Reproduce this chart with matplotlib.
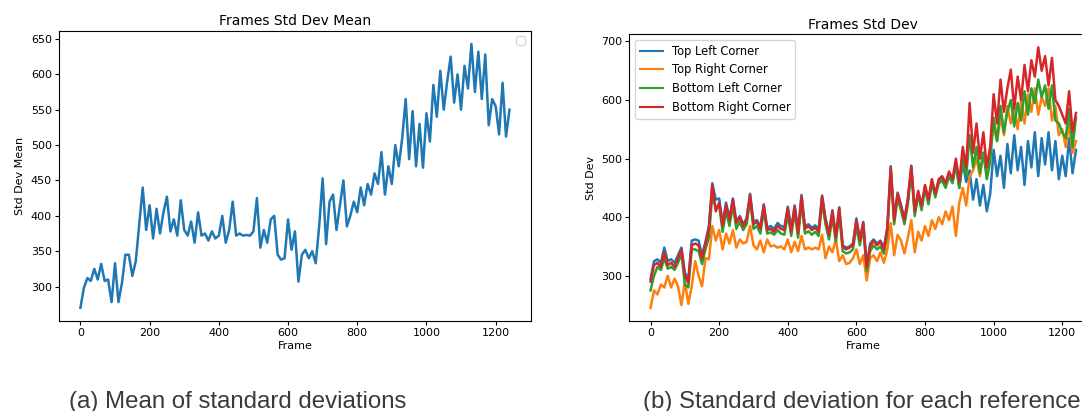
import numpy as np
import matplotlib.pyplot as plt

# frame index, sampled every 10 frames
frames = np.arange(0, 1250, 10)

std_dev_mean = [
    270, 298, 312, 308, 325, 310, 332, 308, 310, 278,
    333, 278, 305, 345, 345, 315, 336, 388, 440, 380,
    415, 368, 410, 375, 405, 427, 378, 395, 372, 422,
    380, 372, 392, 362, 405, 372, 375, 365, 378, 368,
    372, 400, 362, 380, 420, 372, 375, 372, 373, 372,
    378, 425, 355, 380, 362, 395, 400, 345, 338, 340,
    395, 352, 378, 307, 345, 352, 340, 350, 333, 385,
    453, 360, 420, 430, 380, 415, 450, 385, 400, 420,
    405, 440, 415, 445, 430, 460, 445, 490, 430, 470,
    445, 500, 470, 510, 565, 480, 548, 470, 530, 468,
    545, 505, 585, 540, 605, 550, 590, 625, 560, 600,
    550, 612, 580, 643, 575, 632, 565, 628, 528, 565,
    555, 515, 588, 512, 550,
]

top_left = [
    295, 325, 328, 322, 348, 325, 328, 322, 335, 348,
    305, 295, 360, 362, 360, 335, 358, 385, 458, 430,
    432, 390, 425, 398, 432, 392, 402, 388, 398, 440,
    392, 395, 384, 422, 382, 385, 380, 390, 385, 383,
    418, 380, 420, 376, 438, 384, 388, 382, 386, 380,
    437, 398, 372, 412, 368, 417, 352, 348, 350, 355,
    398, 362, 392, 318, 355, 362, 355, 360, 348, 382,
    487, 398, 442, 420, 397, 432, 488, 408, 443, 418,
    452, 428, 462, 440, 462, 468, 455, 475, 460, 490,
    450, 495, 460, 480, 430, 465, 420, 455, 410, 440,
    515, 470, 505, 450, 525, 475, 540, 480, 520, 455,
    530, 485, 545, 470, 535, 490, 545, 480, 530, 465,
    505, 470, 535, 475, 515,
]

top_right = [
    245, 275, 268, 285, 280, 300, 280, 295, 282, 250,
    290, 252, 282, 325, 300, 282, 330, 328, 385, 360,
    378, 345, 372, 355, 378, 348, 362, 355, 358, 385,
    352, 345, 360, 340, 362, 350, 352, 348, 350, 345,
    362, 340, 358, 342, 368, 345, 348, 345, 348, 345,
    370, 330, 350, 340, 362, 325, 335, 320, 322, 330,
    345, 320, 335, 292, 330, 335, 325, 340, 322, 345,
    390, 335, 370, 360, 338, 365, 395, 340, 375, 360,
    385, 368, 395, 380, 400, 388, 410, 395, 418, 368,
    425, 450, 420, 470, 480, 500, 470, 510, 475, 520,
    555, 530, 570, 540, 590, 560, 585, 550, 600, 560,
    610, 580, 620, 575, 605, 590, 620, 565, 590, 540,
    550, 520, 560, 510, 530,
]

bottom_left = [
    275, 300, 315, 310, 330, 312, 315, 310, 322, 338,
    285, 280, 345, 345, 342, 320, 345, 365, 440, 415,
    420, 375, 410, 385, 420, 380, 392, 378, 388, 430,
    380, 385, 372, 412, 372, 374, 370, 378, 372, 370,
    405, 368, 410, 365, 425, 372, 376, 370, 375, 368,
    425, 388, 362, 400, 358, 405, 342, 338, 340, 345,
    385, 352, 382, 308, 342, 352, 345, 350, 338, 372,
    478, 388, 432, 412, 388, 422, 480, 402, 438, 412,
    448, 422, 458, 434, 458, 462, 450, 470, 458, 490,
    450, 500, 470, 540, 485, 520, 475, 510, 465, 495,
    570, 530, 590, 545, 580, 600, 555, 595, 565, 615,
    575, 620, 595, 635, 605, 625, 585, 625, 565, 560,
    545, 535, 585, 520, 570,
]

bottom_right = [
    290, 318, 322, 315, 340, 318, 322, 315, 330, 345,
    300, 288, 352, 355, 352, 330, 355, 380, 455, 410,
    425, 385, 420, 395, 430, 390, 400, 385, 395, 438,
    388, 392, 380, 420, 378, 380, 375, 385, 380, 378,
    415, 375, 418, 372, 435, 380, 385, 378, 382, 375,
    435, 395, 370, 410, 365, 415, 350, 345, 348, 352,
    395, 360, 390, 315, 350, 360, 352, 358, 345, 380,
    485, 395, 440, 420, 395, 430, 487, 410, 445, 420,
    455, 430, 465, 440, 465, 470, 458, 478, 465, 500,
    460, 520, 485, 595, 510, 560, 500, 545, 485, 520,
    610, 560, 635, 580, 620, 652, 585, 640, 600, 660,
    615, 668, 640, 690, 650, 675, 625, 672, 600, 590,
    575, 560, 615, 545, 578,
]

plt.rcParams["font.size"] = 8

fig = plt.figure(figsize=(10.82, 4.11), dpi=100)

ax1 = fig.add_axes([0.0545, 0.219, 0.4362, 0.7063])
ax1.plot(frames, std_dev_mean, color="#1f77b4", lw=1.8)
ax1.set_title("Frames Std Dev Mean", fontsize=10, pad=4)
ax1.set_xlabel("Frame", labelpad=2)
ax1.set_ylabel("Std Dev Mean", labelpad=4)
ax1.set_xticks([0, 200, 400, 600, 800, 1000, 1200])
ax1.set_yticks([300, 350, 400, 450, 500, 550, 600, 650])
ax1.legend(handles=[], loc="upper right")

ax2 = fig.add_axes([0.5816, 0.219, 0.4325, 0.6975])
ax2.plot(frames, top_left, label="Top Left Corner", lw=1.8)
ax2.plot(frames, top_right, label="Top Right Corner", lw=1.8)
ax2.plot(frames, bottom_left, label="Bottom Left Corner", lw=1.8)
ax2.plot(frames, bottom_right, label="Bottom Right Corner", lw=1.8)
ax2.set_title("Frames Std Dev", fontsize=10, pad=4)
ax2.set_xlabel("Frame", labelpad=2)
ax2.set_ylabel("Std Dev", labelpad=4)
ax2.set_xticks([0, 200, 400, 600, 800, 1000, 1200])
ax2.set_yticks([300, 400, 500, 600, 700])
leg = ax2.legend(loc="upper left", fontsize=8.3)
for h in leg.get_lines():
    h.set_linewidth(1.5)

for ax in (ax1, ax2):
    ax.tick_params(length=3, pad=2)

cap = dict(fontsize=17.3, color="#3a3a3a", family="Liberation Sans", va="baseline")
fig.text(0.064, 0.008, "(a) Mean of standard deviations", **cap)
fig.text(0.594, 0.008, "(b) Standard deviation for each reference", **cap)

fig.savefig("out.png", dpi=100)
